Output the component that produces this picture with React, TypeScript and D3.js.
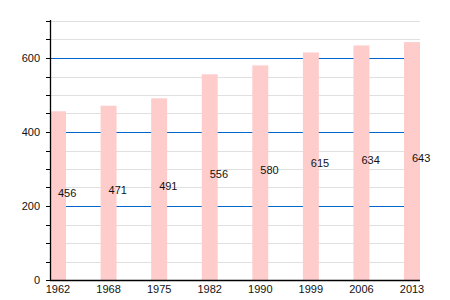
import React from "react";
import * as d3 from "d3";

const years = ["1962", "1968", "1975", "1982", "1990", "1999", "2006", "2013"];
const values = [456, 471, 491, 556, 580, 615, 634, 643];
const yTicks = [0, 200, 400, 600];
const minorTicks = [0, 50, 100, 150, 200, 250, 300, 350, 400, 450, 500, 550, 600, 650, 700];

const W = 450;
const H = 300;
const left = 50;
const right = 420;
const bottom = 280;
const top = 21;

export default function App() {
  const x = d3.scaleBand<string>().domain(years).range([left, right]).paddingInner(0.684).paddingOuter(0).align(0);
  const y = d3.scaleLinear().domain([0, 700]).range([bottom, top]);
  const font = "'Liberation Sans', Arial, Helvetica, sans-serif";
  return (
    <svg width={W} height={H} style={{ position: "absolute", left: 0, top: 0 }} fontFamily={font}>
      <rect width={W} height={H} fill="#fff" />
      {minorTicks.filter((t) => t > 0).map((t) => (
        <line key={"g" + t} x1={left} x2={right} y1={Math.round(y(t)) + 0.5} y2={Math.round(y(t)) + 0.5}
          stroke={t % 200 === 0 ? "#0066cc" : "#e0e0e0"} strokeWidth={1} />
      ))}
      {years.map((yr, i) => (
        <rect key={yr} x={x(yr)} width={x.bandwidth()} y={y(values[i])} height={bottom - y(values[i])} fill="#ffcccc" />
      ))}
      {years.map((yr, i) => (
        <text key={"v" + yr} x={(x(yr) as number) + x.bandwidth() / 2} y={y(values[i] / 2) + 1} fontSize={11} fill="#111">
          {values[i]}
        </text>
      ))}
      <line x1={left + 0.5} x2={left + 0.5} y1={20} y2={bottom + 1} stroke="#000" strokeWidth={1.3} />
      <line x1={left} x2={right} y1={bottom + 0.5} y2={bottom + 0.5} stroke="#000" strokeWidth={1.3} />
      {minorTicks.map((t) => (
        <line key={"t" + t} x1={left - 4} x2={left} y1={Math.round(y(t)) + 0.5} y2={Math.round(y(t)) + 0.5} stroke="#000" strokeWidth={1} />
      ))}
      {yTicks.map((t) => (
        <text key={"l" + t} x={40} y={y(t) + 4} fontSize={11} textAnchor="end" fill="#111">
          {t}
        </text>
      ))}
      {years.map((yr) => (
        <text key={"x" + yr} x={(x(yr) as number) + x.bandwidth() / 2} y={293} fontSize={11} textAnchor="middle" fill="#111">
          {yr}
        </text>
      ))}
    </svg>
  );
}
